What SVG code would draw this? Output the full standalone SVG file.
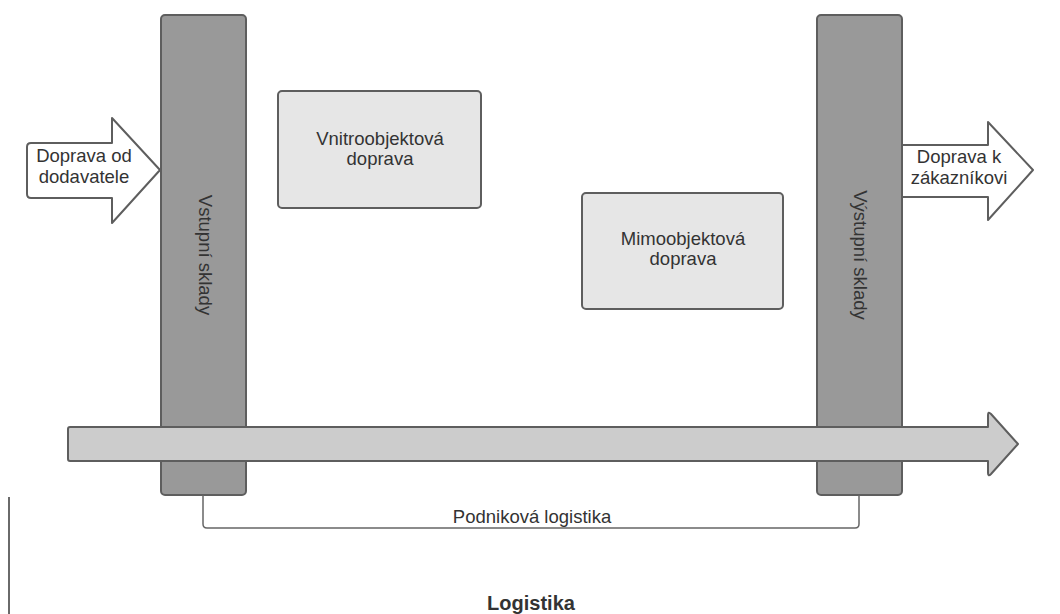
<svg xmlns="http://www.w3.org/2000/svg" width="1060" height="614" viewBox="0 0 1060 614">
<style>
text{font-family:"Liberation Sans",Arial,sans-serif;fill:#333;font-size:18.5px}
.bar{fill:#999;stroke:#5e5e5e;stroke-width:2}
.box{fill:#e6e6e6;stroke:#5e5e5e;stroke-width:2}
.arr{fill:#fff;stroke:#5e5e5e;stroke-width:2;stroke-linejoin:round}
.big{fill:#ccc;stroke:#5e5e5e;stroke-width:2;stroke-linejoin:round}
.conn{fill:none;stroke:#666;stroke-width:1.5}
</style>
<rect width="1060" height="614" fill="#fff"/>
<g id="arrow-in">
<path class="arr" d="M27,147 Q27,143 31,143 H112 V118 L160,170 L112,223 V198 H31 Q27,198 27,194 Z"/>
<text x="84" y="162" text-anchor="middle">Doprava od</text>
<text x="84" y="183" text-anchor="middle">dodavatele</text>
</g>
<g id="arrow-out">
<path class="arr" d="M898,145 H988 V122 L1033,170 L988,220 V197 H898 Z"/>
<text x="959" y="163" text-anchor="middle">Doprava k</text>
<text x="959" y="184" text-anchor="middle">zákazníkovi</text>
</g>
<g id="bar-in">
<rect class="bar" x="161" y="15" width="85" height="480" rx="4"/>
<text transform="translate(205,255) rotate(90)" text-anchor="middle" dominant-baseline="central">Vstupní sklady</text>
</g>
<g id="bar-out">
<rect class="bar" x="817" y="15" width="85" height="480" rx="4"/>
<text transform="translate(860,255) rotate(90)" text-anchor="middle" dominant-baseline="central">Výstupní sklady</text>
</g>
<g id="box-vnitro">
<rect class="box" x="278" y="91" width="203" height="117" rx="4"/>
<text x="380" y="145" text-anchor="middle">Vnitroobjektová</text>
<text x="380" y="165" text-anchor="middle">doprava</text>
</g>
<g id="box-mimo">
<rect class="box" x="582" y="193" width="201" height="116" rx="4"/>
<text x="683" y="245" text-anchor="middle">Mimoobjektová</text>
<text x="683" y="265" text-anchor="middle">doprava</text>
</g>
<g id="flow-arrow">
<path class="big" d="M70,427 H988 V415 Q988,411 991,414 L1018,444 L991,474 Q988,477 988,473 V461 H70 Q68,461 68,459 V429 Q68,427 70,427 Z"/>
</g>
<g id="connectors">
<path class="conn" d="M203,495 V524 Q203,528 207,528 H855 Q859,528 859,524 V495"/>
<line x1="9" y1="497" x2="9" y2="614" stroke="#6a6a6a" stroke-width="2"/>
</g>
<text x="532" y="523" text-anchor="middle">Podniková logistika</text>
<text x="531" y="610" text-anchor="middle" font-weight="bold" style="font-size:20px">Logistika</text>
</svg>
